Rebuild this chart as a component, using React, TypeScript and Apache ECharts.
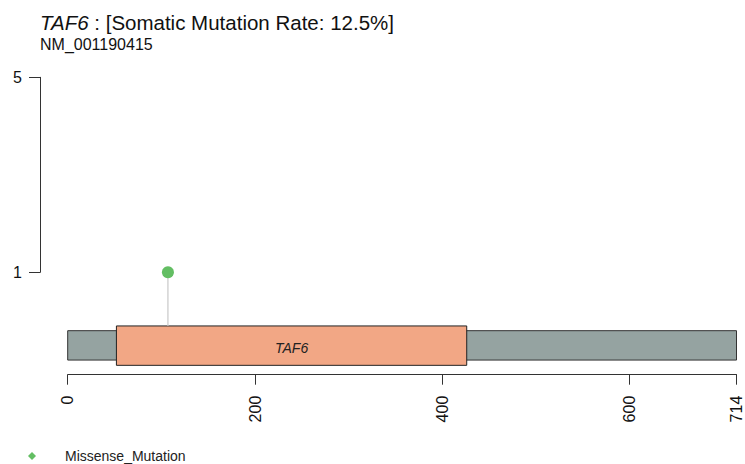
import React, { useEffect, useRef } from "react";
import * as echarts from "echarts";

// Gene / transcript info
const geneName = "TAF6";
const transcript = "NM_001190415";
const mutationRate = "12.5%";
const proteinLength = 714;

// Protein domains: [start, end, label]
const domainStarts = [52];
const domainEnds = [426];
const domainNames = ["TAF6"];

// Mutations: amino-acid position and count
const mutationPositions = [107];
const mutationCounts = [1];
const mutationClass = "Missense_Mutation";

// Axis ticks
const xTicks = [0, 200, 400, 600, 714];
const yTicks = [1, 5];

const FONT = "'Liberation Sans', Arial, sans-serif";

// Vertical extent of the protein bar and domain boxes (in y-axis units)
const BAR_TOP = -0.197;
const BAR_BOTTOM = -0.8;
const DOMAIN_TOP = -0.1;
const DOMAIN_BOTTOM = -0.908;

export default function App() {
  const ref = useRef<HTMLDivElement>(null);

  useEffect(() => {
    if (!ref.current) return;
    const chart = echarts.init(ref.current, null, { renderer: "svg" });

    const gridTop = 77.3;
    const option: any = {
      animation: false,
      backgroundColor: "#ffffff",
      title: [
        {
          text: `{i|${geneName}} : [Somatic Mutation Rate: ${mutationRate}]`,
          left: 40,
          top: 14.5,
          padding: 0,
          textStyle: {
            fontFamily: FONT,
            fontSize: 20.5,
            lineHeight: 16,
            fontWeight: "normal",
            color: "#111",
            rich: {
              i: {
                fontFamily: FONT,
                fontSize: 20.5,
                lineHeight: 16,
                fontStyle: "italic",
                color: "#111",
              },
            },
          },
        },
        {
          text: transcript,
          left: 40,
          top: 38,
          padding: 0,
          textStyle: {
            fontFamily: FONT,
            fontSize: 16,
            lineHeight: 12,
            fontWeight: "normal",
            color: "#111",
          },
        },
      ],
      legend: {
        data: [mutationClass],
        left: 28,
        top: 449,
        padding: 0,
        icon: "diamond",
        itemWidth: 8,
        itemHeight: 8,
        itemStyle: { opacity: 1 },
        textStyle: { fontFamily: FONT, fontSize: 14, color: "#222", padding: [0, 0, 0, 24] },
      },
      grid: [
        { left: 40, top: gridTop, height: 195, width: 10 },
        { left: 67.7, right: 8.5, top: gridTop, bottom: 89.3 },
      ],
      xAxis: [
        { gridIndex: 0, type: "value", show: false, min: 0, max: 1 },
        {
          gridIndex: 1,
          type: "value",
          position: "bottom",
          min: 0,
          max: proteinLength,
          splitLine: { show: false },
          axisLine: { show: true, onZero: false, lineStyle: { color: "#333", width: 1 } },
          axisTick: {
            show: true,
            length: 10,
            customValues: xTicks,
            lineStyle: { color: "#333", width: 1 },
          },
          axisLabel: {
            customValues: xTicks,
            rotate: 90,
            margin: 21,
            fontFamily: FONT,
            fontSize: 16,
            color: "#111",
            showMinLabel: true,
            showMaxLabel: true,
          },
        },
      ],
      yAxis: [
        {
          gridIndex: 0,
          type: "value",
          min: 1,
          max: 5,
          splitLine: { show: false },
          axisLine: { show: true, onZero: false, lineStyle: { color: "#333", width: 1 } },
          axisTick: {
            show: true,
            length: 11,
            customValues: yTicks,
            lineStyle: { color: "#333", width: 1 },
          },
          axisLabel: {
            customValues: yTicks,
            margin: 18,
            fontFamily: FONT,
            fontSize: 16,
            color: "#111",
          },
        },
        { gridIndex: 1, type: "value", min: -1.1, max: 5, show: false },
      ],
      series: [
        {
          type: "custom",
          name: "protein",
          xAxisIndex: 1,
          yAxisIndex: 1,
          silent: true,
          data: [[0, proteinLength]],
          renderItem: (_p: any, api: any) => {
            const a = api.coord([api.value(0), BAR_TOP]);
            const b = api.coord([api.value(1), BAR_BOTTOM]);
            return {
              type: "rect",
              shape: { x: a[0], y: a[1], width: b[0] - a[0], height: b[1] - a[1] },
              style: { fill: "#95a3a1", stroke: "#333", lineWidth: 1 },
            };
          },
        },
        {
          type: "custom",
          name: "domains",
          xAxisIndex: 1,
          yAxisIndex: 1,
          silent: true,
          data: domainStarts.map((s, i) => [s, domainEnds[i], domainNames[i]]),
          renderItem: (p: any, api: any) => {
            const a = api.coord([api.value(0), DOMAIN_TOP]);
            const b = api.coord([api.value(1), DOMAIN_BOTTOM]);
            return {
              type: "group",
              children: [
                {
                  type: "rect",
                  shape: { x: a[0], y: a[1], width: b[0] - a[0], height: b[1] - a[1] },
                  style: { fill: "#f2a785", stroke: "#222", lineWidth: 1 },
                },
                {
                  type: "text",
                  x: (a[0] + b[0]) / 2,
                  y: (a[1] + b[1]) / 2 + 2,
                  style: {
                    text: domainNames[p.dataIndex],
                    fontFamily: FONT,
                    fontSize: 14,
                    fontStyle: "italic",
                    fill: "#222",
                    align: "center",
                    verticalAlign: "middle",
                  },
                },
              ],
            };
          },
        },
        {
          type: "custom",
          name: "stems",
          xAxisIndex: 1,
          yAxisIndex: 1,
          silent: true,
          data: mutationPositions.map((x, i) => [x, mutationCounts[i]]),
          renderItem: (_p: any, api: any) => {
            const a = api.coord([api.value(0), api.value(1)]);
            const b = api.coord([api.value(0), DOMAIN_TOP]);
            return {
              type: "line",
              shape: { x1: a[0], y1: a[1], x2: b[0], y2: b[1] },
              style: { stroke: "#c8c8c8", lineWidth: 1.2 },
            };
          },
        },
        {
          type: "scatter",
          name: mutationClass,
          xAxisIndex: 1,
          yAxisIndex: 1,
          symbol: "circle",
          symbolSize: 12,
          itemStyle: { color: "#63be63", opacity: 1 },
          data: mutationPositions.map((x, i) => [x, mutationCounts[i]]),
        },
      ],
    };

    chart.setOption(option);
    return () => chart.dispose();
  }, []);

  return (
    <div
      ref={ref}
      style={{ position: "fixed", left: 0, top: 0, width: 745, height: 464, background: "#fff" }}
    />
  );
}
